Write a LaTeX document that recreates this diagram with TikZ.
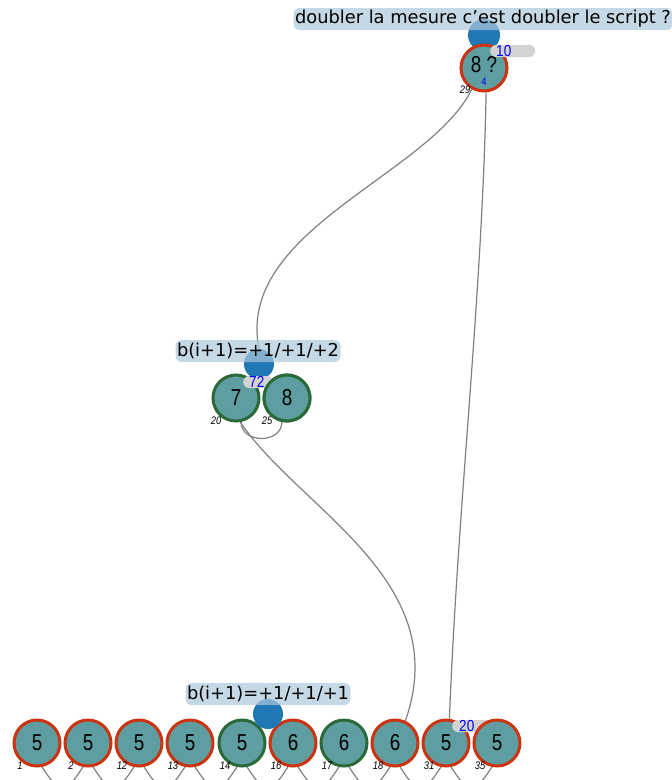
\documentclass[tikz,border=0pt]{standalone}
\usepackage{fontspec}
\setmainfont{DejaVu Sans}
\newfontfamily\numfont{Liberation Sans}
\definecolor{tealf}{HTML}{5F9EA0}
\definecolor{redb}{HTML}{CC3311}
\definecolor{greenb}{HTML}{2A6A3A}
\definecolor{markb}{HTML}{1F77B4}
\definecolor{lblf}{HTML}{ADC8DC}
\definecolor{pillf}{HTML}{D3D3D3}
\definecolor{numblue}{HTML}{0000FF}
\definecolor{edgec}{HTML}{808080}
\newcommand\numtxt[1]{\scalebox{0.82}[1]{\fontsize{23}{23}\selectfont\numfont #1}}
\newcommand\idtxt[1]{\scalebox{0.85}[1]{\fontsize{11}{11}\selectfont\numfont\itshape #1}}
\newcommand\bluetxt[1]{\scalebox{0.85}[1]{\fontsize{16}{16}\selectfont\numfont\color{numblue}#1}}
\tikzset{
  nd/.style={circle, fill=tealf, line width=3pt, minimum size=46pt, inner sep=0pt},
  rednd/.style={nd, draw=redb},
  grnnd/.style={nd, draw=greenb},
  idlbl/.style={inner sep=0pt},
  marker/.style={circle, fill=markb, inner sep=0pt},
  grplbl/.style={fill=lblf, fill opacity=0.7, text opacity=1, rounded corners=6pt, inner sep=1.5pt, minimum height=22pt, font=\fontsize{17.8}{17.8}\selectfont},
  pillbox/.style={fill=pillf, rounded corners=6pt, minimum width=45pt, minimum height=12pt, inner sep=0pt, anchor=west},
  conn/.style={draw=edgec, line width=1.2pt},
}
\begin{document}
\begin{tikzpicture}[x=1pt, y=-1pt]
\useasboundingbox (0,0) rectangle (672,780);

% top node
\node[marker, minimum size=32pt] (m1) at (484,35) {};
\node[rednd] (t) at (484,68) {};
\node[inner sep=0pt] (ttxt) at (484,65) {\numtxt{8 ?}};
\node[inner sep=0pt] (t4) at (484,81.5) {\scalebox{0.85}[1]{\fontsize{11}{11}\selectfont\numfont\color{numblue}4}};
\node[idlbl] (l29) at (465,90) {\idtxt{29}};
\node[pillbox] (p10) at (490,51) {};
\node[anchor=west, inner sep=0pt] (p10t) at (496,51) {\bluetxt{10}};

% middle group
\node[grnnd] (n7) at (236,398) {\numtxt{7}};
\node[grnnd] (n8) at (287,398) {\numtxt{8}};
\node[idlbl] (l20) at (216,421) {\idtxt{20}};
\node[idlbl] (l25) at (267,421) {\idtxt{25}};

% bottom row
\foreach \nm/\xx/\st/\tx/\id in {b1/37/rednd/5/1, b2/88/rednd/5/2, b3/139/rednd/5/12, b4/190/rednd/5/13, b5/242/grnnd/5/14, b6/293/rednd/6/16, b7/344/grnnd/6/17, b8/395/rednd/6/18, b9/446/rednd/5/31, b10/497/rednd/5/35}{
  \node[\st] (\nm) at (\xx,743) {\numtxt{\tx}};
  \node[idlbl] (\nm l) at (\xx-17,766) {\idtxt{\id}};
  \ifnum\id=31
    \node[pillbox] (p20) at (452,726) {};
    \node[anchor=west, inner sep=0pt] (p20t) at (459,726) {\bluetxt{20}};
  \fi
}

% arcs between neighbours
\draw[conn] (n7.-78) .. controls +(0,22) and +(0,22) .. (n8.-102);
\foreach \a/\b in {b1/b2, b2/b3, b3/b4, b4/b5, b5/b6, b6/b7, b7/b8, b8/b9, b9/b10}{
  \draw[conn] (\a.-78) .. controls +(18,28) and +(-18,28) .. (\b.-102);
}

% long connectors
\node[marker, minimum size=30pt] (m2) at (259,364) {};
\draw[conn] (t.-120) .. controls (430,175) and (235,230) .. (m2.north);
\draw[conn] (t.-85) .. controls (482,300) and (458,500) .. (b9.82);
\draw[conn] (n7.-80) .. controls (300,510) and (455,580) .. (b8.65);

% middle group label & pill
\node[grplbl] (g2) at (258,351) {b(i+1)=+1/+1/+2};
\node[pillbox, minimum width=30pt] (p72) at (243,382) {};
\node[anchor=west, inner sep=0pt] (p72t) at (249,382) {\bluetxt{72}};
\node[grnnd] (n8b) at (287,398) {\numtxt{8}};

% bottom group marker and label
\node[marker, minimum size=30pt] (m3) at (268,714) {};
\node[grplbl] (g3) at (268,694) {b(i+1)=+1/+1/+1};

% top label
\node[grplbl] (g1) at (483,19) {doubler la mesure c’est doubler le script ?};
\end{tikzpicture}
\end{document}
